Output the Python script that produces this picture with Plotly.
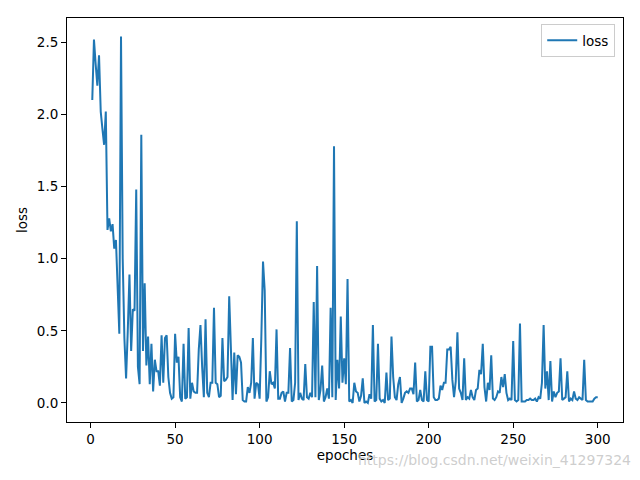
import plotly.graph_objects as go

# loss values per epoch (epochs 1..300)
loss_1_50 = [2.10, 2.52, 2.35, 2.20, 2.41, 2.02, 1.90, 1.79, 2.02, 1.20,
             1.28, 1.19, 1.24, 1.07, 1.13, 0.80, 0.48, 2.54, 1.00, 0.45,
             0.17, 0.50, 0.89, 0.36, 0.65, 0.64, 1.48, 0.25, 0.13, 1.86,
             0.36, 0.83, 0.26, 0.46, 0.13, 0.41, 0.08, 0.30, 0.22, 0.22,
             0.12, 0.47, 0.14, 0.45, 0.47, 0.18, 0.07, 0.03, 0.04, 0.48]
loss_51_100 = [0.28, 0.32, 0.04, 0.01, 0.41, 0.03, 0.04, 0.52, 0.03, 0.14,
               0.08, 0.07, 0.07, 0.37, 0.54, 0.25, 0.04, 0.58, 0.07, 0.04,
               0.14, 0.14, 0.66, 0.14, 0.13, 0.04, 0.05, 0.45, 0.15, 0.16,
               0.18, 0.74, 0.39, 0.02, 0.35, 0.06, 0.33, 0.32, 0.28, 0.02,
               0.01, 0.01, 0.11, 0.07, 0.14, 0.45, 0.03, 0.14, 0.13, 0.03]
loss_101_150 = [0.45, 0.98, 0.78, 0.01, 0.04, 0.22, 0.13, 0.14, 0.10, 0.51,
                0.03, 0.03, 0.07, 0.08, 0.01, 0.07, 0.07, 0.38, 0.01, 0.02,
                0.14, 1.26, 0.02, 0.07, 0.03, 0.02, 0.27, 0.04, 0.03, 0.07,
                0.04, 0.70, 0.04, 0.95, 0.02, 0.09, 0.26, 0.01, 0.04, 0.10,
                0.03, 0.66, 0.04, 1.78, 0.02, 0.30, 0.10, 0.60, 0.14, 0.31]
loss_151_200 = [0.13, 0.86, 0.01, 0.02, 0.00, 0.14, 0.08, 0.07, 0.01, 0.05,
                0.17, 0.00, 0.01, 0.00, 0.06, 0.03, 0.54, 0.01, 0.02, 0.41,
                0.03, 0.01, 0.02, 0.00, 0.21, 0.02, 0.03, 0.46, 0.18, 0.04,
                0.02, 0.13, 0.18, 0.00, 0.03, 0.07, 0.08, 0.07, 0.10, 0.10,
                0.06, 0.28, 0.01, 0.02, 0.09, 0.02, 0.01, 0.22, 0.02, 0.01]
loss_201_250 = [0.39, 0.39, 0.04, 0.02, 0.02, 0.03, 0.12, 0.09, 0.14, 0.14,
                0.37, 0.37, 0.39, 0.16, 0.04, 0.15, 0.49, 0.10, 0.07, 0.02,
                0.31, 0.02, 0.04, 0.03, 0.09, 0.04, 0.02, 0.09, 0.10, 0.23,
                0.20, 0.41, 0.11, 0.01, 0.14, 0.09, 0.33, 0.03, 0.02, 0.04,
                0.08, 0.07, 0.18, 0.11, 0.20, 0.07, 0.02, 0.03, 0.02, 0.43]
loss_251_300 = [0.02, 0.01, 0.02, 0.55, 0.01, 0.01, 0.01, 0.02, 0.02, 0.03,
                0.02, 0.02, 0.03, 0.01, 0.04, 0.03, 0.14, 0.54, 0.10, 0.22,
                0.02, 0.29, 0.01, 0.08, 0.04, 0.07, 0.08, 0.31, 0.02, 0.03,
                0.04, 0.22, 0.01, 0.03, 0.02, 0.08, 0.03, 0.02, 0.04, 0.03,
                0.02, 0.30, 0.02, 0.01, 0.01, 0.01, 0.01, 0.03, 0.04, 0.04]

loss = loss_1_50 + loss_51_100 + loss_101_150 + loss_151_200 + loss_201_250 + loss_251_300
epochs = list(range(1, len(loss) + 1))

x_ticks = [0, 50, 100, 150, 200, 250, 300]
y_ticks = [0.0, 0.5, 1.0, 1.5, 2.0, 2.5]
y_tick_labels = ["0.0", "0.5", "1.0", "1.5", "2.0", "2.5"]

fig = go.Figure()
fig.add_trace(go.Scatter(x=epochs, y=loss, mode="lines", name="loss",
                         line=dict(color="#1f77b4", width=2)))

font = dict(family="DejaVu Sans", size=13.5, color="black")
axis_common = dict(showline=True, linecolor="black", linewidth=1, mirror=True,
                   ticks="outside", ticklen=5, tickwidth=1, tickcolor="black",
                   showgrid=False, zeroline=False, tickfont=font, automargin=False)

# page body has an 8px default margin, so the figure is 624x464 placed at (8, 8)
fig.update_layout(
    width=624, height=464,
    margin=dict(l=59, r=9, t=10, b=50),
    paper_bgcolor="white", plot_bgcolor="white",
    font=font,
    xaxis=dict(range=[-13.95, 314.95], tickvals=x_ticks,
               title=dict(text="epoches", font=font, standoff=2), **axis_common),
    yaxis=dict(range=[-0.132, 2.669], tickvals=y_ticks, ticktext=y_tick_labels,
               title=dict(text="loss", font=font, standoff=6), **axis_common),
    legend=dict(x=0.986, y=0.985, xanchor="right", yanchor="top",
                bordercolor="#cccccc", borderwidth=1, bgcolor="white",
                font=font, tracegroupgap=0),
    showlegend=True,
)

fig.add_annotation(text="https://blog.csdn.net/weixin_41297324", xref="paper", yref="paper",
                   x=1.018, y=-0.094, xanchor="right", yanchor="middle", showarrow=False,
                   font=dict(family="DejaVu Sans", size=14, color="rgba(200,200,200,0.9)"))

fig.write_html("out.html")
